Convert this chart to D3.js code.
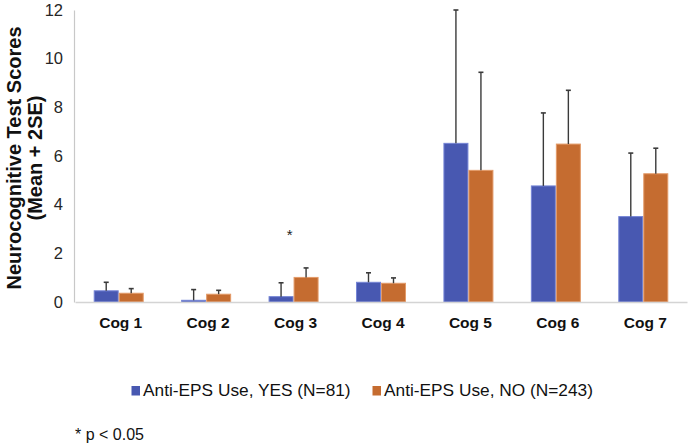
<!DOCTYPE html>
<html><head><meta charset="utf-8">
<script src="https://cdn.jsdelivr.net/npm/d3@7"></script>
<style>body{margin:0;background:#fff}svg{display:block}text{font-family:"Liberation Sans",Arial,sans-serif}</style>
</head><body>
<svg id="c" width="689" height="447"></svg>
<script>
const categories = ["Cog 1","Cog 2","Cog 3","Cog 4","Cog 5","Cog 6","Cog 7"];
const seriesNames = ["Anti-EPS Use, YES (N=81)","Anti-EPS Use, NO (N=243)"];
const yesMean = [0.46,0.07,0.22,0.81,6.52,4.77,3.51];
const yesUpper = [0.81,0.51,0.79,1.20,12.0,7.77,6.12];
const noMean = [0.36,0.32,1.01,0.77,5.41,6.49,5.27];
const noUpper = [0.55,0.48,1.40,0.99,9.44,8.70,6.32];
const yTicks = [0,2,4,6,8,10,12];
const sigMarks = [{cat:"Cog 3", value:2.75, label:"*"}];
const colors = ["#4858B1","#C56C30"];
const strokes = ["#7585D6","#E39A68"];

const svg = d3.select("#c");
const x = d3.scaleBand().domain(categories).range([75,687]).paddingInner(0.428).paddingOuter(0.214);
const xs = d3.scaleBand().domain([0,1]).range([0,x.bandwidth()]);
const y = d3.scaleLinear().domain([0,12]).range([302,10]);

// y axis
const ya = svg.append("g").attr("transform","translate(74,0)")
  .call(d3.axisLeft(y).tickValues(yTicks).tickSize(0).tickPadding(11));
ya.select(".domain").attr("stroke","#c8c8c8").attr("stroke-width",1.2);
ya.selectAll("text").attr("font-size",16.5).attr("fill","#262626").attr("font-family","Liberation Sans, Arial, sans-serif");

const series = [
  {mean:yesMean, upper:yesUpper},
  {mean:noMean, upper:noUpper}
];
const data = [];
series.forEach((s,si)=>categories.forEach((c,i)=>data.push({c,si,m:s.mean[i],u:s.upper[i]})));

svg.append("g").selectAll("rect").data(data).join("rect")
  .attr("x",d=>x(d.c)+xs(d.si)+0.5)
  .attr("y",d=>y(d.m))
  .attr("width",xs.bandwidth()-1)
  .attr("height",d=>y(0)-y(d.m))
  .attr("fill",d=>colors[d.si])
  .attr("stroke",d=>strokes[d.si]).attr("stroke-width",1);

// x axis
const xa = svg.append("g").attr("transform","translate(0,302)")
  .call(d3.axisBottom(x).tickSize(0).tickPadding(15));
xa.select(".domain").attr("stroke","#d4d4d4").attr("stroke-width",1.5);
xa.selectAll("text").attr("font-size",15.5).attr("font-weight","bold").attr("fill","#111")
  .attr("dx",2).attr("font-family","Liberation Sans, Arial, sans-serif");

// error bars
const eb = svg.append("g").attr("stroke","#3a3a3a").attr("stroke-width",1.4);
data.forEach(d=>{
  const cx = x(d.c)+xs(d.si)+xs.bandwidth()/2;
  eb.append("line").attr("x1",cx).attr("x2",cx).attr("y1",y(d.m)).attr("y2",y(d.u));
  eb.append("line").attr("x1",cx-2.5).attr("x2",cx+2.5).attr("y1",y(d.u)).attr("y2",y(d.u)).attr("stroke-width",1.6);
});

// significance
svg.append("g").selectAll("text").data(sigMarks).join("text")
  .attr("x",d=>x(d.cat)+x.bandwidth()/2-4).attr("y",d=>y(d.value)+5)
  .attr("text-anchor","middle").attr("font-size",15).attr("fill","#222").text(d=>d.label);

// y title
const yt = svg.append("text").attr("transform","translate(21,158) rotate(-90)")
  .attr("text-anchor","middle").attr("font-size",20).attr("font-weight","bold").attr("fill","#111");
yt.append("tspan").attr("x",0).attr("dy",0).text("Neurocognitive Test Scores");
yt.append("tspan").attr("x",0).attr("dy",21).text("(Mean + 2SE)");

// legend
const legX = [131.5, 372.5];
const lg = svg.append("g");
seriesNames.forEach((n,i)=>{
  lg.append("rect").attr("x",legX[i]).attr("y",386).attr("width",8.5).attr("height",9.5).attr("fill",colors[i]);
  lg.append("text").attr("x",legX[i]+11.5).attr("y",395.5).attr("font-size",17.3).attr("fill","#111").text(n);
});

svg.append("text").attr("x",75).attr("y",440).attr("font-size",16).attr("fill","#111").text("* p < 0.05");
</script>
</body></html>
